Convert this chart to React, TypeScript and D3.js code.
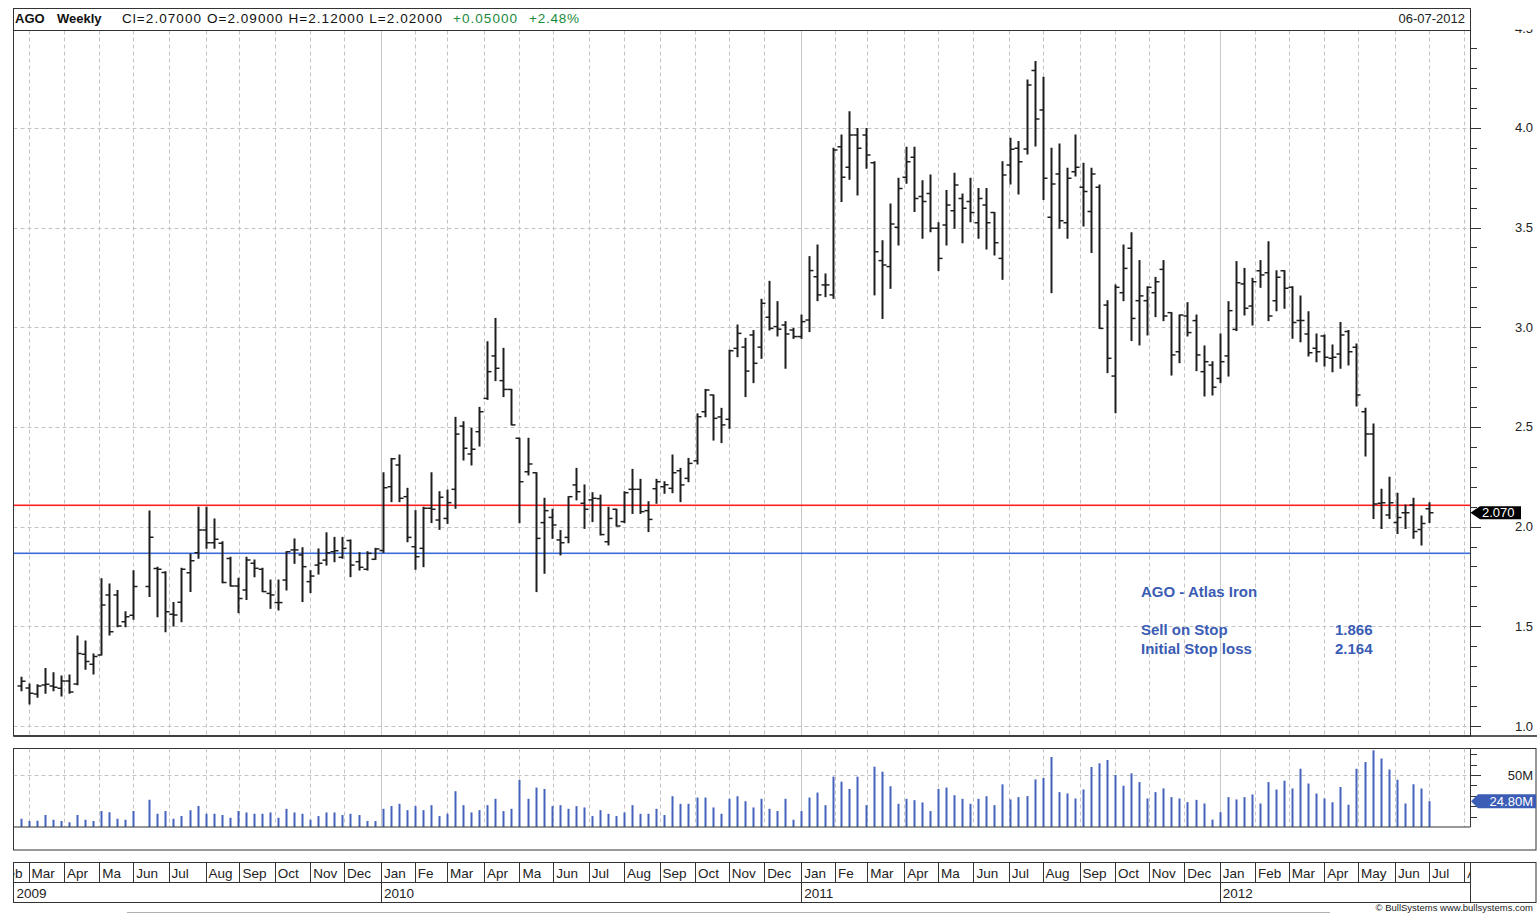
import React from "react";
import * as d3 from "d3";

// ---- Data (weekly bars, first bar = week of Mon 23 Feb 2009) ----
const firstWeek = new Date(2009, 1, 23);

const opens: (number | null)[] = [
  1.2, 1.19, 1.16, 1.206, 1.2, 1.189, 1.226, 1.211, 1.36, 1.31,
  1.356, 1.657, 1.657, 1.523, 1.555, null, 1.7, 1.79, 1.77, 1.56,
  1.62, 1.769, 1.869, 1.983, 1.919, 1.916, 1.84, 1.702, 1.682, 1.816,
  1.786, 1.665, 1.619, 1.732, 1.883, 1.858, 1.724, 1.807, 1.832, 1.874,
  1.846, 1.93, 1.824, 1.786, 1.836, 1.88, 2.2, 2.309, 2.15, 1.899,
  1.891, 2.092, 2.033, 2.041, 2.187, 2.504, 2.364, 2.476, 2.643, 2.856,
  2.732, 2.688, 2.443, 2.275, 2.27, 2.02, 2.046, 1.933, 1.946, 2.209,
  2.117, 2.134, 2.14, 1.924, 2.087, 2.025, 2.187, 2.187, 2.08, 2.19,
  2.2, 2.192, 2.28, 2.242, 2.33, 2.576, 2.66, 2.55, 2.538, 2.894,
  2.9, 2.961, 2.9, 3.05, 3.003, 3.011, 2.986, 2.953, 3.036, 3.253,
  3.212, 3.162, 3.905, 3.802, 3.964, 3.964, 3.825, 3.334, 3.304, 3.501,
  3.752, 3.852, 3.655, 3.671, 3.496, 3.513, 3.584, 3.646, 3.63, 3.524,
  3.613, 3.575, 3.345, 3.813, 3.897, 3.894, 4.287, 4.089, 3.551, 3.768,
  3.524, 3.78, 3.702, 3.58, 3.702, 3.111, 2.755, 3.173, 3.396, 3.133,
  3.133, 3.173, 3.29, 3.073, 2.877, 3.056, 3.033, 2.777, 2.81, 2.743,
  2.856, 2.989, 3.217, 3.106, 3.283, 3.273, 3.133, 3.283, 3.2, 3.033,
  2.966, 2.894, 2.956, 2.844, 2.866, 2.978, 2.899, 2.576, 2.464, 2.117,
  2.058, 2.02, 2.07, 2.108, 1.986, 2.09,
];
const highs: (number | null)[] = [
  1.244, 1.211, 1.207, 1.288, 1.267, 1.251, 1.256, 1.451, 1.426, 1.361,
  1.739, 1.712, 1.679, 1.573, 1.779, null, 2.078, 1.796, 1.774, 1.619,
  1.791, 1.863, 2.097, 2.097, 2.038, 1.924, 1.846, 1.741, 1.846, 1.832,
  1.791, 1.732, 1.732, 1.874, 1.938, 1.894, 1.779, 1.888, 1.969, 1.946,
  1.946, 1.933, 1.869, 1.874, 1.891, 2.27, 2.342, 2.359, 2.192, 2.08,
  2.097, 2.27, 2.175, 2.183, 2.548, 2.526, 2.493, 2.598, 2.927, 3.044,
  2.894, 2.688, 2.443, 2.443, 2.27, 2.142, 2.087, 1.98, 2.15, 2.292,
  2.209, 2.17, 2.158, 2.097, 2.087, 2.175, 2.287, 2.237, 2.125, 2.237,
  2.225, 2.359, 2.292, 2.342, 2.565, 2.688, 2.66, 2.593, 2.885, 3.011,
  2.944, 2.983, 3.14, 3.23, 3.128, 3.028, 2.994, 3.061, 3.354, 3.412,
  3.267, 3.897, 3.964, 4.081, 3.997, 3.997, 3.83, 3.434, 3.618, 3.747,
  3.902, 3.902, 3.735, 3.763, 3.524, 3.685, 3.772, 3.668, 3.747, 3.696,
  3.696, 3.575, 3.83, 3.947, 3.931, 4.24, 4.332, 4.253, 3.897, 3.919,
  3.797, 3.964, 3.822, 3.797, 3.713, 3.133, 3.212, 3.412, 3.474, 3.334,
  3.203, 3.25, 3.334, 3.073, 3.061, 3.123, 3.061, 2.906, 2.827, 2.966,
  3.128, 3.329, 3.295, 3.245, 3.334, 3.429, 3.283, 3.283, 3.203, 3.156,
  3.078, 2.966, 2.961, 2.911, 3.023, 2.983, 2.916, 2.593, 2.514, 2.187,
  2.247, 2.167, 2.108, 2.142, 2.053, 2.12,
];
const lows: (number | null)[] = [
  1.177, 1.11, 1.144, 1.164, 1.177, 1.15, 1.164, 1.207, 1.284, 1.261,
  1.356, 1.456, 1.498, 1.498, 1.535, null, 1.649, 1.548, 1.473, 1.501,
  1.523, 1.674, 1.841, 1.891, 1.891, 1.719, 1.702, 1.568, 1.635, 1.749,
  1.674, 1.59, 1.582, 1.682, 1.816, 1.624, 1.669, 1.762, 1.807, 1.824,
  1.841, 1.749, 1.782, 1.782, 1.836, 1.87, 2.125, 2.125, 1.924, 1.786,
  1.799, 2.02, 1.986, 2.016, 2.092, 2.334, 2.309, 2.404, 2.638, 2.732,
  2.652, 2.51, 2.02, 2.259, 1.674, 1.766, 1.941, 1.858, 1.919, 2.134,
  1.991, 2.025, 1.958, 1.908, 2.003, 2.02, 2.066, 2.066, 1.975, 2.117,
  2.167, 2.17, 2.125, 2.225, 2.314, 2.551, 2.434, 2.421, 2.493, 2.852,
  2.652, 2.722, 2.844, 2.986, 2.956, 2.794, 2.944, 2.944, 2.978, 3.133,
  3.153, 3.145, 3.63, 3.742, 3.663, 3.797, 3.162, 3.044, 3.195, 3.412,
  3.722, 3.58, 3.446, 3.479, 3.284, 3.412, 3.496, 3.424, 3.529, 3.446,
  3.392, 3.362, 3.24, 3.718, 3.668, 3.869, 3.909, 3.641, 3.173, 3.496,
  3.446, 3.758, 3.508, 3.374, 2.994, 2.772, 2.571, 3.133, 2.933, 2.911,
  2.961, 3.053, 3.033, 2.76, 2.822, 2.956, 2.782, 2.655, 2.66, 2.722,
  2.755, 2.983, 3.061, 3.011, 3.2, 3.033, 3.083, 3.095, 2.944, 2.927,
  2.856, 2.827, 2.805, 2.777, 2.794, 2.81, 2.605, 2.354, 2.041, 1.991,
  2.041, 1.966, 1.991, 1.941, 1.908, 2.02,
];
const closes: (number | null)[] = [
  1.224, 1.164, 1.201, 1.21, 1.194, 1.226, 1.17, 1.364, 1.323, 1.348,
  1.607, 1.473, 1.501, 1.548, 1.699, null, 1.946, 1.786, 1.573, 1.557,
  1.786, 1.829, 1.983, 1.919, 1.936, 1.72, 1.702, 1.64, 1.832, 1.791,
  1.674, 1.657, 1.619, 1.874, 1.883, 1.799, 1.752, 1.816, 1.869, 1.879,
  1.891, 1.807, 1.796, 1.866, 1.888, 2.195, 2.34, 2.142, 1.946, 1.849,
  2.092, 2.087, 2.147, 2.12, 2.464, 2.393, 2.388, 2.576, 2.777, 2.794,
  2.688, 2.51, 2.225, 2.314, 1.941, 2.08, 2.008, 1.919, 2.15, 2.175,
  2.087, 2.142, 1.96, 2.041, 2.003, 2.17, 2.187, 2.075, 2.036, 2.225,
  2.21, 2.27, 2.209, 2.317, 2.551, 2.685, 2.543, 2.51, 2.882, 2.969,
  2.78, 2.819, 3.12, 2.994, 2.99, 2.966, 2.953, 3.028, 3.284, 3.162,
  3.212, 3.889, 3.752, 3.964, 3.897, 3.864, 3.379, 3.312, 3.518, 3.696,
  3.83, 3.646, 3.63, 3.496, 3.345, 3.613, 3.713, 3.596, 3.575, 3.646,
  3.524, 3.424, 3.763, 3.892, 3.83, 4.215, 4.044, 3.747, 3.718, 3.534,
  3.747, 3.802, 3.68, 3.768, 2.994, 2.844, 3.2, 3.295, 3.044, 3.157,
  3.2, 3.228, 3.056, 2.861, 3.061, 2.973, 2.861, 2.827, 2.699, 2.827,
  3.083, 3.223, 3.095, 3.228, 3.262, 3.056, 3.25, 3.195, 3.023, 3.033,
  2.872, 2.877, 2.849, 2.849, 2.961, 2.877, 2.66, 2.464, 2.113, 2.12,
  2.12, 2.046, 2.07, 1.975, 2.016, 2.07,
];
// volume in millions
const volumes: number[] = [
  8.0, 5.7, 6.1, 11.5, 7.0, 5.7, 4.5, 11.5, 7.0, 5.7,
  15.3, 14.3, 8.0, 7.0, 15.3, 0, 26.1, 12.7, 15.3, 8.0,
  10.5, 16.2, 20.1, 12.7, 12.7, 11.5, 8.9, 15.3, 14.0, 12.7,
  12.7, 14.0, 8.9, 17.5, 14.0, 12.7, 7.0, 10.5, 14.0, 14.0,
  11.5, 12.7, 11.5, 5.7, 5.7, 17.5, 20.1, 22.3, 16.2, 20.1,
  16.2, 21.0, 10.5, 12.7, 34.4, 21.0, 14.0, 16.2, 21.0, 27.1,
  15.3, 17.5, 45.2, 27.1, 37.9, 36.6, 20.1, 21.0, 17.5, 20.1,
  18.8, 10.5, 16.2, 12.7, 10.5, 14.0, 21.0, 12.7, 12.7, 17.5,
  11.5, 29.6, 22.3, 22.3, 28.3, 28.3, 18.8, 12.7, 27.1, 29.6,
  24.8, 18.8, 27.1, 17.5, 15.3, 27.1, 7.0, 15.3, 28.3, 33.1,
  21.0, 48.4, 43.6, 36.6, 48.4, 21.0, 58.0, 53.2, 39.2, 22.3,
  27.1, 25.8, 23.6, 15.3, 36.6, 37.9, 30.6, 27.1, 22.3, 27.1,
  29.6, 21.0, 41.0, 26.5, 28.7, 29.7, 45.8, 47.1, 67.4, 33.5,
  32.3, 27.4, 36.1, 57.7, 61.3, 64.5, 50.0, 39.7, 51.6, 43.2,
  27.4, 33.5, 37.1, 28.7, 27.4, 23.9, 26.1, 22.6, 7.1, 14.2,
  28.7, 26.5, 28.7, 31.3, 22.6, 43.2, 36.1, 44.5, 37.1, 56.1,
  41.9, 32.3, 27.4, 23.9, 38.4, 21.3, 56.1, 62.6, 73.9, 65.8,
  55.2, 45.5, 22.6, 41.0, 37.1, 24.8,
];

const monthLabels = [
  "Feb", "Mar", "Apr", "Ma", "Jun", "Jul", "Aug", "Sep", "Oct", "Nov", "Dec",
  "Jan", "Fe", "Mar", "Apr", "Ma", "Jun", "Jul", "Aug", "Sep", "Oct", "Nov", "Dec",
  "Jan", "Fe", "Mar", "Apr", "Ma", "Jun", "Jul", "Aug", "Sep", "Oct", "Nov", "Dec",
  "Jan", "Feb", "Mar", "Apr", "May", "Jun", "Jul", "Aug",
];
const yearLabels = ["2009", "2010", "2011", "2012"];
const priceTicks = [1.0, 1.5, 2.0, 2.5, 3.0, 3.5, 4.0, 4.5];
const volTicks = [10, 20, 30, 40, 50, 60, 70];
const sellStop = 1.866;
const initialStopLine = 2.11;
const lastClose = 2.07;
const lastVolume = 24.8;

const FONT = "'Liberation Sans', Arial, Helvetica, sans-serif";

export default function App() {
  const x = d3.scaleLinear().domain([0, 175]).range([20.5, 1428.9]);
  const y = d3.scaleLinear().domain([1, 4.5]).range([726, 28.1]);
  const yv = d3.scaleLinear().domain([0, 50]).range([827, 775]);

  const months = d3.timeMonth.range(new Date(2009, 1, 1), new Date(2012, 8, 1));
  const monthPos = months.map((m, k) => {
    let d = new Date(m);
    while (d.getDay() === 0 || d.getDay() === 6) d = d3.timeDay.offset(d, 1);
    const days = Math.round((d.getTime() - firstWeek.getTime()) / 86400000);
    const wk = Math.floor(days / 7);
    const off = ((days % 7) + 7) % 7;
    return { px: x(wk + off / 5), isYear: m.getMonth() === 0, label: monthLabels[k], year: m.getFullYear() };
  });

  const plotL = 13.5, plotR = 1470.5, plotT = 30.5, plotB = 736;
  const bars = opens.map((o, i) => ({ i, o, h: highs[i], l: lows[i], c: closes[i], v: volumes[i] }));
  const minorTicks = d3.range(10, 46).map((v) => v / 10);
  const crisp = (v: number) => Math.round(v) + 0.5;

  const grid = "#c4c4c4";

  return (
    <svg width={1537} height={914} style={{ position: "absolute", left: 0, top: 0, background: "#fff" }} fontFamily={FONT}>
      <defs>
        <clipPath id="plotClip"><rect x={plotL} y={plotT} width={plotR - plotL} height={plotB - plotT} /></clipPath>
        <clipPath id="volClip"><rect x={plotL} y={748.5} width={plotR - plotL} height={78.5} /></clipPath>
        <clipPath id="axisClip"><rect x={1471} y={29.5} width={66} height={706} /></clipPath>
        <clipPath id="dateClip"><rect x={14} y={862} width={1456} height={41} /></clipPath>
      </defs>
      <rect x={0} y={0} width={1537} height={914} fill="#fff" />

      {/* Header */}
      <text x={15} y={23} fontSize={13} fontWeight="bold" fill="#111">AGO</text>
      <text x={57} y={23} fontSize={13} fontWeight="bold" fill="#111">Weekly</text>
      <text x={122} y={23} fontSize={13.5} fill="#111" textLength={320} lengthAdjust="spacing">Cl=2.07000 O=2.09000 H=2.12000 L=2.02000</text>
      <text x={453} y={23} fontSize={13.5} fill="#1a8a3a" textLength={64} lengthAdjust="spacing">+0.05000</text>
      <text x={529} y={23} fontSize={13.5} fill="#1a8a3a" textLength={50} lengthAdjust="spacing">+2.48%</text>
      <text x={1465} y={23} fontSize={13} fill="#222" textAnchor="end">06-07-2012</text>

      {/* Price panel gridlines */}
      <g clipPath="url(#plotClip)">
        {priceTicks.map((t) => (
          <line key={"hg" + t} x1={plotL} x2={plotR} y1={crisp(y(t))} y2={crisp(y(t))} stroke={grid} strokeDasharray="4 3" />
        ))}
        {monthPos.map((m, k) => (
          <line key={"vg" + k} x1={crisp(m.px)} x2={crisp(m.px)} y1={plotT} y2={plotB}
            stroke={m.isYear ? "#c8c8c8" : grid} strokeDasharray={m.isYear ? undefined : "4 3"} />
        ))}
        <rect x={plotL} y={Math.round(y(initialStopLine)) - 0.5} width={plotR - plotL} height={1.6} fill="#ff1f1f" />
        <rect x={plotL} y={Math.round(y(sellStop)) - 0.5} width={plotR - plotL} height={1.6} fill="#3a6ddb" />
        {bars.filter((b) => b.o !== null).map((b) => {
          const cx = Math.round(x(b.i)) + 0.5;
          return (
            <g key={"b" + b.i} stroke="#1e1e1e">
              <line x1={cx} x2={cx} y1={y(b.h as number) - 0.5} y2={y(b.l as number) + 0.5} strokeWidth={2} />
              <line x1={cx - 4} x2={cx} y1={y(b.o as number)} y2={y(b.o as number)} strokeWidth={1.5} />
              <line x1={cx} x2={cx + 4} y1={y(b.c as number)} y2={y(b.c as number)} strokeWidth={1.5} />
            </g>
          );
        })}
      </g>

      {/* Annotation */}
      <g fill="#3a5cb4" fontWeight="bold" fontSize={15}>
        <text x={1141} y={597}>AGO - Atlas Iron</text>
        <text x={1141} y={635}>Sell on Stop</text>
        <text x={1335} y={635}>{sellStop.toFixed(3)}</text>
        <text x={1141} y={654}>Initial Stop loss</text>
        <text x={1335} y={654}>2.164</text>
      </g>

      {/* Price panel frame */}
      <rect x={13.5} y={8.5} width={1457} height={727.5} fill="none" stroke="#333" />
      <line x1={13.5} x2={1470.5} y1={plotT} y2={plotT} stroke="#333" />
      <line x1={13.5} x2={1537} y1={736} y2={736} stroke="#222" strokeWidth={1.5} />

      {/* Price axis */}
      <g clipPath="url(#axisClip)">
        {minorTicks.map((t) => {
          const major = Math.abs(t * 2 - Math.round(t * 2)) < 1e-6;
          return <line key={"mt" + t} x1={1470.5} x2={major ? 1481 : 1477} y1={crisp(y(t))} y2={crisp(y(t))} stroke="#333" />;
        })}
        {priceTicks.map((t) => (
          <text key={"pl" + t} x={1533} y={y(t) + 4.5} fontSize={13} fill="#222" textAnchor="end">{t.toFixed(1)}</text>
        ))}
      </g>
      <path d={`M1470.5,${y(lastClose)} L1480,${y(lastClose) - 6.5} L1521,${y(lastClose) - 6.5} L1521,${y(lastClose) + 6.5} L1480,${y(lastClose) + 6.5} Z`} fill="#000" />
      <text x={1482} y={y(lastClose) + 4.5} fontSize={13} fill="#fff">{lastClose.toFixed(3)}</text>

      {/* Volume panel */}
      <rect x={13.5} y={748.5} width={1522.5} height={101.5} fill="none" stroke="#333" />
      <g clipPath="url(#volClip)">
        <line x1={plotL} x2={plotR} y1={crisp(yv(50))} y2={crisp(yv(50))} stroke={grid} strokeDasharray="4 3" />
        {monthPos.map((m, k) => (
          <line key={"vv" + k} x1={crisp(m.px)} x2={crisp(m.px)} y1={748.5} y2={827}
            stroke={m.isYear ? "#c8c8c8" : grid} strokeDasharray={m.isYear ? undefined : "4 3"} />
        ))}
        {bars.filter((b) => b.v > 0).map((b) => {
          const cx = Math.round(x(b.i)) + 0.5;
          return <line key={"v" + b.i} x1={cx} x2={cx} y1={yv(b.v)} y2={yv(0)} stroke="#4563bd" strokeWidth={2} />;
        })}
      </g>
      <line x1={13.5} x2={1470.5} y1={827} y2={827} stroke="#333" />
      <line x1={1470.5} x2={1470.5} y1={748.5} y2={827} stroke="#333" />
      {volTicks.map((t) => (
        <line key={"vt" + t} x1={1470.5} x2={t === 50 ? 1481 : 1477} y1={crisp(yv(t))} y2={crisp(yv(t))} stroke="#333" />
      ))}
      <text x={1533} y={yv(50) + 4.5} fontSize={13} fill="#222" textAnchor="end">50M</text>
      <path d={`M1471,${yv(lastVolume)} L1478,${yv(lastVolume) - 7} L1536,${yv(lastVolume) - 7} L1536,${yv(lastVolume) + 7} L1478,${yv(lastVolume) + 7} Z`} fill="#3b5db6" />
      <text x={1533} y={yv(lastVolume) + 4.5} fontSize={13} fill="#fff" textAnchor="end">{lastVolume.toFixed(2)}M</text>

      {/* Date axis */}
      <rect x={13.5} y={862.5} width={1522.5} height={40} fill="none" stroke="#333" />
      <line x1={13.5} x2={1470.5} y1={882.5} y2={882.5} stroke="#333" />
      <line x1={1470.5} x2={1470.5} y1={862.5} y2={902.5} stroke="#333" />
      <g clipPath="url(#dateClip)">
        {monthPos.map((m, k) => (
          <g key={"ml" + k}>
            <line x1={crisp(m.px)} x2={crisp(m.px)} y1={862.5} y2={m.isYear ? 902.5 : 882.5} stroke="#333" />
            <text x={m.px + 3} y={878} fontSize={13.5} fill="#222">{m.label}</text>
          </g>
        ))}
        {yearLabels.map((yl) => {
          const yr = +yl;
          const mp = monthPos.find((m) => m.isYear && m.year === yr);
          const px = mp ? mp.px : 13.5;
          return <text key={"yl" + yl} x={px + 3} y={898} fontSize={13.5} fill="#222">{yl}</text>;
        })}
      </g>

      {/* Footer */}
      <line x1={127} x2={1330} y1={912.5} y2={912.5} stroke="#b0b0b0" />
      <text x={1533} y={911} fontSize={9.5} fill="#222" textAnchor="end">© BullSystems www.bullsystems.com</text>
    </svg>
  );
}
